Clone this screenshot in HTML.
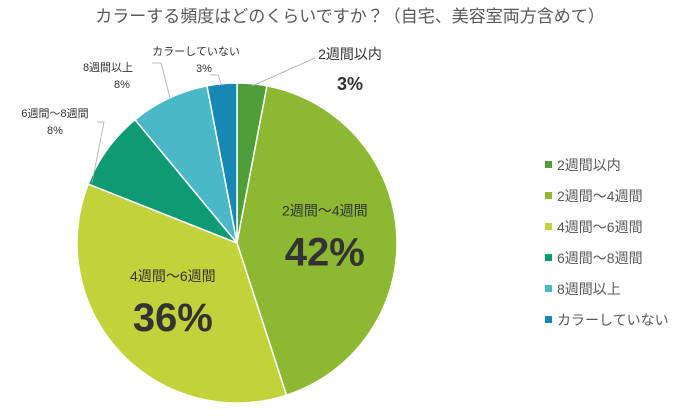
<!DOCTYPE html>
<html><head><meta charset="utf-8"><style>
body{margin:0;background:#fff;width:690px;height:411px;overflow:hidden;font-family:"Liberation Sans","Noto Sans CJK JP",sans-serif;}
</style></head><body>
<svg id="chart" width="690" height="411" xmlns="http://www.w3.org/2000/svg" font-family="Liberation Sans, Noto Sans CJK JP, sans-serif">
<text x="350" y="22" text-anchor="middle" font-size="17" fill="#595959">カラーする頻度はどのくらいですか？（自宅、美容室両方含めて）</text>
<g id="slices"></g>
<g id="labels"></g>
<g id="legend"></g>
</svg>
<script>
const categories=["2週間以内","2週間〜4週間","4週間〜6週間","6週間〜8週間","8週間以上","カラーしていない"];
const values=[3,42,36,8,8,3];
const colors=["#4f9e3a","#8cb832","#c2d23a","#0e9a72","#4bb8c8","#1688b4"];
const NS="http://www.w3.org/2000/svg";
const cx=237,cy=243,r=160;
const total=values.reduce((a,b)=>a+b,0);
function pt(a,rr){return [cx+rr*Math.sin(a),cy-rr*Math.cos(a)];}
const gS=document.getElementById('slices'),gL=document.getElementById('labels'),gG=document.getElementById('legend');
function txt(parent,x,y,s,size,fill,weight,anchor){const t=document.createElementNS(NS,'text');t.setAttribute('x',x);t.setAttribute('y',y);t.setAttribute('font-size',size);t.setAttribute('fill',fill);if(weight)t.setAttribute('font-weight',weight);t.setAttribute('text-anchor',anchor||'middle');t.textContent=s;parent.appendChild(t);return t;}
let acc=0;
const angles=[];
values.forEach((v,i)=>{
 const a0=acc/total*2*Math.PI;acc+=v;const a1=acc/total*2*Math.PI;angles.push([a0,a1]);
 const p0=pt(a0,r),p1=pt(a1,r);
 const path=document.createElementNS(NS,'path');
 path.setAttribute('d',`M${cx},${cy}L${p0[0]},${p0[1]}A${r},${r} 0 ${a1-a0>Math.PI?1:0} 1 ${p1[0]},${p1[1]}Z`);
 path.setAttribute('fill',colors[i]);path.setAttribute('stroke','#fff');path.setAttribute('stroke-width','1.5');
 
 
 gS.appendChild(path);
});
// inside labels for big slices
[[1,0.55],[2,0.55]].forEach(([i,f])=>{
 const m=(angles[i][0]+angles[i][1])/2;const p=pt(m,r*f);
 const t1=txt(gL,p[0],p[1]-22,categories[i],14,'#333');
 
 
 const t2=txt(gL,p[0],p[1]+28,values[i]+'%',40,'#333','bold');
 
 
});
// outside labels
const outside=[[0,350,59,350,90,18,'bold',[252,86,315,58]],[3,55,117,55,134,11,null,[97,122,104,122,92,183]],[4,108,71,122,88,11,null,[152,63,161,63,170,98]],[5,196,55,204,72,11,null,[210,75,218,75,222,86]]];
outside.forEach(([i,x,y,vx,vy,vs,w,ln])=>{
 const pl=document.createElementNS(NS,'polyline');
 const pts=[];for(let k=0;k<ln.length;k+=2)pts.push(ln[k]+','+ln[k+1]);
 pl.setAttribute('points',pts.join(' '));pl.setAttribute('fill','none');pl.setAttribute('stroke','#aaa');pl.setAttribute('stroke-width','0.8');
 
 
 gL.appendChild(pl);
 const t1=txt(gL,x,y,categories[i],i===0?14:11,'#333');
 
 
 const t2=txt(gL,vx,vy,values[i]+'%',vs,'#333',w);
 
 
});
categories.forEach((c,i)=>{
 const y=165+i*31;
 const g=document.createElementNS(NS,'g');
 
 
 const rc=document.createElementNS(NS,'rect');rc.setAttribute('x',545);rc.setAttribute('y',y-4);rc.setAttribute('width',7);rc.setAttribute('height',7);rc.setAttribute('fill',colors[i]);
 g.appendChild(rc);
 txt(g,557,y+5,c,14,'#595959',null,'start');
 gG.appendChild(g);
});
</script>
</body></html>
